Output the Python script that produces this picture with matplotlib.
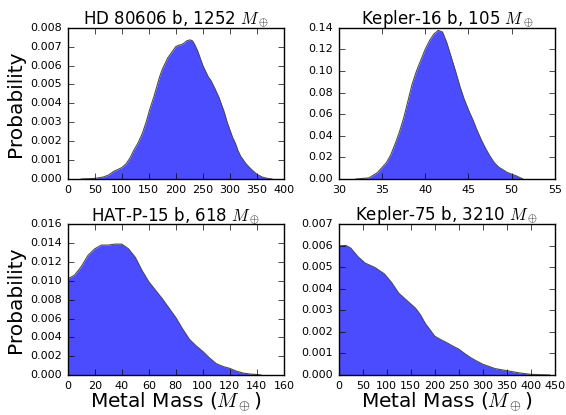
import numpy as np
import matplotlib.pyplot as plt

plt.style.use('classic')
plt.rcParams['figure.facecolor'] = 'white'
plt.rcParams['savefig.facecolor'] = 'white'

# metal mass posteriors (M_earth) and their probability densities
hd_x = [25, 50, 65, 75, 85, 100, 108, 115, 122, 130, 138, 145, 152, 160, 165,
        170, 175, 180, 185, 190, 195, 200, 205, 210, 215, 220, 224, 227, 231,
        235, 240, 245, 250, 255, 260, 265, 272, 280, 285, 290, 295, 300, 305,
        310, 315, 320, 325, 330, 340, 350, 360, 370, 378]
hd_y = [0.0, 0.00003, 0.0001, 0.0002, 0.0004, 0.0006, 0.0008, 0.0011, 0.0015,
        0.0019, 0.0024, 0.0030, 0.0037, 0.0044, 0.0049, 0.0054, 0.0058,
        0.0061, 0.0064, 0.0066, 0.0068, 0.0070, 0.00707, 0.0071, 0.00718,
        0.0073, 0.00734, 0.00735, 0.0073, 0.0071, 0.0068, 0.0064, 0.0060,
        0.0057, 0.0054, 0.0052, 0.0048, 0.0043, 0.0039, 0.0035, 0.0030,
        0.0026, 0.0022, 0.0019, 0.0015, 0.0012, 0.0010, 0.0008, 0.0005,
        0.00025, 0.0001, 0.00003, 0.0]

k16_x = [32, 33.5, 34.5, 35.5, 36, 36.5, 37, 37.5, 38, 38.5, 39, 39.5, 40,
         40.5, 41, 41.5, 42, 42.5, 43, 43.5, 44, 44.5, 45, 45.5, 46, 46.5, 47,
         47.5, 48, 48.5, 49.5, 50.5, 51.3]
k16_y = [0.0, 0.001, 0.006, 0.015, 0.022, 0.032, 0.043, 0.056, 0.072, 0.088,
         0.100, 0.110, 0.120, 0.128, 0.134, 0.1375, 0.136, 0.126, 0.113,
         0.100, 0.086, 0.074, 0.064, 0.055, 0.045, 0.036, 0.028, 0.021,
         0.015, 0.011, 0.006, 0.003, 0.0]

hat_x = [0, 5, 10, 15, 20, 25, 30, 35, 40, 45, 50, 55, 60, 65, 70, 75, 80, 85,
         90, 95, 100, 105, 110, 115, 120, 125, 130, 135, 140, 143]
hat_y = [0.0102, 0.0106, 0.0115, 0.0127, 0.0134, 0.0138, 0.0138, 0.0139,
         0.0139, 0.0134, 0.0125, 0.0111, 0.0099, 0.0090, 0.0081, 0.0071,
         0.0061, 0.0049, 0.0038, 0.0031, 0.0025, 0.0018, 0.0012, 0.0009,
         0.0007, 0.0004, 0.0002, 0.0001, 0.00005, 0.0]

k75_x = [0, 15, 25, 40, 55, 75, 95, 110, 125, 140, 160, 170, 180, 190, 200,
         212, 225, 237, 250, 262, 275, 287, 300, 325, 350, 375, 400, 440]
k75_y = [0.0060, 0.00602, 0.0059, 0.0055, 0.0052, 0.0050, 0.0047, 0.0043,
         0.0038, 0.0035, 0.0031, 0.0028, 0.0024, 0.0021, 0.0018, 0.00165,
         0.0015, 0.00135, 0.0012, 0.0010, 0.0008, 0.00065, 0.0005, 0.0003,
         0.0002, 0.0001, 0.00003, 0.0]

titles = [r'HD 80606 b, 1252 $M_\oplus$', r'Kepler-16 b, 105 $M_\oplus$',
          r'HAT-P-15 b, 618 $M_\oplus$', r'Kepler-75 b, 3210 $M_\oplus$']
xlims = [(0, 400), (30, 55), (0, 160), (0, 450)]
ylims = [(0, 0.008), (0, 0.14), (0, 0.016), (0, 0.007)]
series = [(hd_x, hd_y), (k16_x, k16_y), (hat_x, hat_y), (k75_x, k75_y)]

fig = plt.figure(figsize=(5.66, 4.15), dpi=100)
rects = [[0.1196, 0.5687, 0.382, 0.3646],
         [0.5984, 0.5687, 0.382, 0.3646],
         [0.1196, 0.0964, 0.382, 0.3630],
         [0.5984, 0.0964, 0.382, 0.3630]]

for i, (rect, (x, y)) in enumerate(zip(rects, series)):
    ax = fig.add_axes(rect)
    ax.fill_between(x, 0, y, facecolor='b', alpha=0.7, linewidth=0)
    ax.plot(x, y, color='0.3', lw=0.8)
    ax.set_xlim(*xlims[i])
    ax.set_ylim(*ylims[i])
    ax.set_title(titles[i], fontsize=12, pad=3)
    ax.tick_params(labelsize=8, direction='in', length=4)
    if i % 2 == 0:
        ax.set_ylabel('Probability', fontsize=14.5, labelpad=4)
    if i >= 2:
        ax.set_xlabel(r'Metal Mass ($M_\oplus$)', fontsize=14.5, labelpad=0)

fig.savefig('out.png', dpi=100)
